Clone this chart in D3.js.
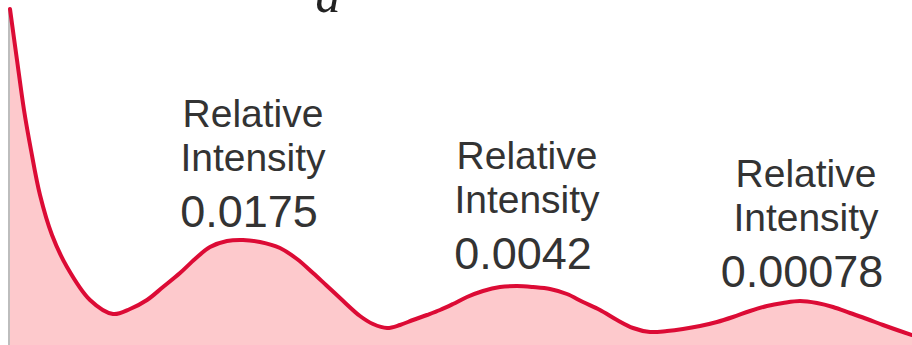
<!DOCTYPE html>
<html>
<head>
<meta charset="utf-8">
<script src="https://cdn.jsdelivr.net/npm/d3@7"></script>
<style>
  html, body { margin: 0; padding: 0; background: #fff; }
  svg { display: block; }
</style>
</head>
<body>
<svg id="chart" width="912" height="345"></svg>
<script>
// Diffraction pattern profile: position across the screen vs. drawn height of the intensity envelope
const positions = [0, 7, 14, 21, 30, 42, 57, 80, 103, 120, 137, 153, 170, 185, 200, 217, 233, 250, 270, 287, 303, 316, 330, 350, 363, 377, 390, 403, 417, 430, 443, 457, 473, 490, 507, 523, 540, 557, 573, 590, 607, 623, 640, 657, 673, 690, 707, 723, 740, 757, 773, 790, 807, 823, 840, 857, 873, 890, 902];
const heights   = [334, 283, 233, 193, 148, 108, 76, 43, 29, 34, 43, 56, 70, 84, 96, 102, 103, 101, 95, 84, 70, 58, 45, 27, 19, 15, 18, 23, 28, 33, 39, 46, 52, 56, 57, 56, 54, 49, 41, 33, 23, 15, 11, 12, 14, 17, 21, 26, 32, 37, 40, 42, 40, 36, 30, 24, 18, 12, 8];

// Secondary maxima and their relative intensities
const peakPositions = [243, 515, 796];
const peakLabels = ["0.0175", "0.0042", "0.00078"];
const labelLines = ["Relative", "Intensity"];

const svg = d3.select("#chart");
const W = 912, H = 345;

const x = d3.scaleLinear().domain([0, 902]).range([10, 912]);
const y = d3.scaleLinear().domain([0, 334]).range([343, 9]);

const pts = positions.map((p, i) => [p, heights[i]]);
const curve = d3.curveCatmullRom.alpha(0.5);

// shaded area under the curve
svg.append("path")
  .datum(pts)
  .attr("fill", "#fdc9cc")
  .attr("d", d3.area()
    .x(d => x(d[0]))
    .y0(H)
    .y1(d => y(d[1]))
    .curve(curve));

// left axis line
svg.append("line")
  .attr("x1", 9).attr("x2", 9)
  .attr("y1", y(334)).attr("y2", H)
  .attr("stroke", "#bdbdbd")
  .attr("stroke-width", 2);

// intensity curve
svg.append("path")
  .datum(pts)
  .attr("fill", "none")
  .attr("stroke", "#dc0b35")
  .attr("stroke-width", 4)
  .attr("stroke-linejoin", "round")
  .attr("stroke-linecap", "round")
  .attr("d", d3.line()
    .x(d => x(d[0]))
    .y(d => y(d[1]))
    .curve(curve));

// annotation blocks above each secondary maxima
const labelTops = [127, 169, 187];
const labelDx = [10, 12, 10];
peakPositions.forEach((p, i) => {
  const cx = x(p) - 10 + labelDx[i];
  const g = svg.append("g")
    .attr("font-family", "'Liberation Sans', Arial, Helvetica, sans-serif")
    .attr("fill", "#333")
    .attr("text-anchor", "middle");
  g.append("text")
    .attr("x", cx).attr("y", labelTops[i])
    .attr("font-size", 39)
    .text(labelLines[0]);
  g.append("text")
    .attr("x", cx).attr("y", labelTops[i] + 44)
    .attr("font-size", 39)
    .text(labelLines[1]);
  g.append("text")
    .attr("x", cx - 4).attr("y", labelTops[i] + 100)
    .attr("font-size", 45)
    .text(peakLabels[i]);
});

// panel letter
svg.append("text")
  .attr("x", 328).attr("y", 12)
  .attr("text-anchor", "middle")
  .attr("font-family", "'Liberation Serif', 'Times New Roman', serif")
  .attr("font-style", "italic")
  .attr("font-size", 50)
  .attr("fill", "#222")
  .text("a");
</script>
</body>
</html>
